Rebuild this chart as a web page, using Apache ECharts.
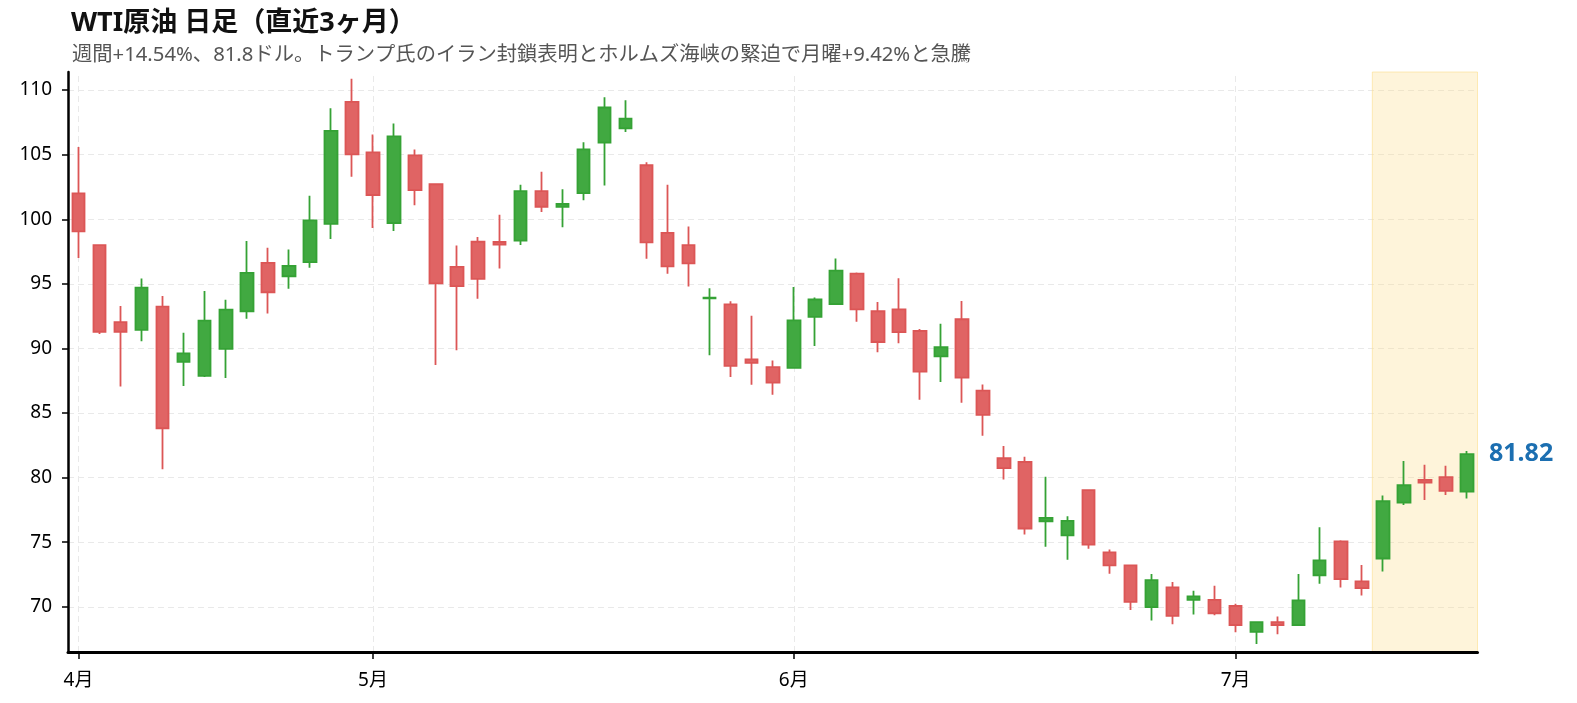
<!DOCTYPE html>
<html>
<head>
<meta charset="utf-8">
<script src="https://cdn.jsdelivr.net/npm/echarts@6/dist/echarts.min.js"></script>
<style>
html,body{margin:0;padding:0;background:#fff;}
#chart{width:1577px;height:703px;}
</style>
</head>
<body>
<div id="chart"></div>
<script>
// ---- data ----
const monthLabels = ['4月', '5月', '6月', '7月'];
const monthCounts = [14, 20, 21, 12]; // trading days per month in the window
const opens  = [102.0, 98.0, 92.03, 91.44, 93.24, 88.97, 87.88, 89.97, 92.88, 96.62,
                95.59, 96.68, 99.65, 109.09, 105.18, 99.71, 104.94, 102.71, 96.32, 98.26,
                98.24, 98.35, 102.18, 100.97, 102.03, 105.94, 107.03, 104.18, 98.94, 98.0,
                93.88, 93.41, 89.15, 88.56, 88.5, 92.44, 93.44, 95.79, 92.88, 93.03,
                91.35, 89.38, 92.26, 86.74, 81.5, 81.21, 76.62, 75.53, 79.03, 74.21,
                73.21, 69.97, 71.5, 70.53, 70.53, 70.06, 68.06, 68.82, 68.59, 72.44,
                75.06, 71.97, 73.74, 78.06, 79.82, 80.03, 78.91];
const closes = [99.06, 91.29, 91.29, 94.71, 83.82, 89.62, 92.15, 93.0, 95.85, 94.35,
                96.38, 99.91, 106.85, 105.03, 101.88, 106.41, 102.26, 95.03, 94.82, 95.38,
                98.03, 102.18, 100.97, 101.18, 105.41, 108.65, 107.79, 98.21, 96.35, 96.59,
                93.94, 88.65, 88.88, 87.35, 92.18, 93.79, 96.03, 93.03, 90.5, 91.26,
                88.21, 90.09, 87.74, 84.85, 80.74, 76.06, 76.88, 76.65, 74.82, 73.21,
                70.38, 72.06, 69.29, 70.8, 69.5, 68.59, 68.82, 68.59, 70.5, 73.59,
                72.15, 71.44, 78.17, 79.41, 79.62, 78.97, 81.82];
const lows   = [97.0, 91.12, 87.06, 90.56, 80.65, 87.09, 87.79, 87.71, 92.29, 92.71,
                94.62, 96.24, 98.47, 103.29, 99.32, 99.09, 101.09, 88.71, 89.85, 93.85,
                96.18, 98.0, 100.56, 99.38, 101.47, 102.62, 106.76, 96.94, 95.79, 94.79,
                89.47, 87.79, 87.18, 86.41, 88.45, 90.18, 93.4, 92.06, 89.71, 90.41,
                86.03, 87.41, 85.79, 83.24, 79.85, 75.59, 74.65, 73.65, 74.5, 72.56,
                69.76, 68.94, 68.65, 69.41, 69.35, 68.03, 67.12, 67.88, 68.59, 71.79,
                71.5, 70.88, 72.74, 77.88, 78.26, 78.65, 78.38];
const highs  = [105.59, 98.0, 93.29, 95.41, 94.06, 91.21, 94.44, 93.76, 98.32, 97.79,
                97.65, 101.82, 108.59, 110.88, 106.56, 107.41, 105.41, 102.71, 97.97, 98.62,
                100.35, 102.68, 103.68, 102.32, 105.97, 109.44, 109.21, 104.41, 102.68, 99.44,
                94.65, 93.65, 92.53, 89.06, 94.76, 93.94, 96.97, 95.88, 93.59, 95.44,
                91.5, 91.91, 93.68, 87.21, 82.44, 81.62, 80.06, 77.0, 79.03, 74.44,
                73.21, 72.53, 71.91, 71.24, 71.62, 70.24, 68.82, 69.24, 72.53, 76.15,
                75.15, 73.24, 78.62, 81.29, 81.0, 80.91, 82.06];
const highlightWeek = [62, 66];      // last week (index range)
const yTickLabels = [70, 75, 80, 85, 90, 95, 100, 105, 110];
const titleText = 'WTI原油 日足（直近3ヶ月）';
const subText = '週間+14.54%、81.8ドル。トランプ氏のイラン封鎖表明とホルムズ海峡の緊迫で月曜+9.42%と急騰';

// ---- derived structures ----
const categories = [];
const monthStartIdx = [];
monthLabels.forEach((m, k) => {
  monthStartIdx.push(categories.length);
  for (let i = 0; i < monthCounts[k]; i++) categories.push(m);
});
const candleData = opens.map((o, i) => [o, closes[i], lows[i], highs[i]]);
const lastIdx = closes.length - 1;
const isMonthStart = (idx) => monthStartIdx.indexOf(idx) >= 0;

const FONT = '"Noto Sans", "Noto Sans CJK JP", sans-serif';
const chart = echarts.init(document.getElementById('chart'), null, {renderer: 'canvas'});
chart.setOption({
  backgroundColor: '#ffffff',
  animation: false,
  textStyle: {fontFamily: FONT},
  title: [
    {text: titleText, left: 66, top: 5,
     textStyle: {fontFamily: FONT, fontSize: 27, fontWeight: 'bold', color: '#111111'}},
    {text: subText, left: 67, top: 40,
     textStyle: {fontFamily: FONT, fontSize: 20.3, fontWeight: 'normal', color: '#555555'}}
  ],
  grid: {left: 68, right: 99.5, top: 72, bottom: 51, containLabel: false},
  xAxis: [
    {
      type: 'category', data: categories, boundaryGap: true,
      axisLine: {show: true, onZero: false, lineStyle: {color: '#000', width: 3}},
      axisTick: {show: true, alignWithLabel: true, interval: (i) => isMonthStart(i),
                 length: 7, lineStyle: {color: '#000', width: 1.5}},
      axisLabel: {interval: (i) => isMonthStart(i), color: '#000', fontSize: 19, margin: 19,
                  fontFamily: FONT},
      splitLine: {show: false}
    },
    {
      type: 'value', min: -0.5, max: categories.length - 0.5, show: false,
      axisLine: {onZero: false},
      splitLine: {show: false}
    }
  ],
  yAxis: {
    type: 'value', min: 66.5, max: 111.4, splitNumber: 9, scale: true,
    axisLine: {show: true, onZero: false, lineStyle: {color: '#000', width: 2.5}},
    axisTick: {show: true, length: 6, lineStyle: {color: '#000', width: 1.5}},
    axisLabel: {color: '#000', fontSize: 19, margin: 16, showMinLabel: false, showMaxLabel: false,
                fontFamily: FONT,
                formatter: (v) => (yTickLabels.indexOf(v) >= 0 ? String(v) : '')},
    splitLine: {show: true, showMinLine: false, showMaxLine: false,
                lineStyle: {color: '#e9e9e9', width: 1, type: [6, 4]}}
  },
  series: [
    {
      type: 'scatter', xAxisIndex: 1, z: 1,
      data: [[lastIdx, closes[lastIdx]]],
      symbolSize: 0,
      itemStyle: {opacity: 1},
      label: {show: true, position: 'right', distance: 22, opacity: 1,
              formatter: (p) => p.value[1].toFixed(2),
              color: '#1c6fb1', fontSize: 25, fontWeight: 'bold', fontFamily: FONT},
      markArea: {
        silent: true, z: 0,
        itemStyle: {color: 'rgba(252,222,140,0.32)', borderColor: 'rgba(252,222,140,0.6)', borderWidth: 1},
        data: [[{xAxis: highlightWeek[0] - 0.5}, {xAxis: highlightWeek[1] + 0.5}]]
      },
      markLine: {
        silent: true, z: 0, symbol: 'none', label: {show: false},
        lineStyle: {color: '#e9e9e9', width: 1, type: [6, 4]},
        data: monthStartIdx.map((i) => ({xAxis: i}))
      }
    },
    {
      type: 'candlestick', xAxisIndex: 0, z: 3,
      data: candleData,
      barWidth: 13,
      itemStyle: {
        color: '#41a941', borderColor: '#35a235',
        color0: '#e06464', borderColor0: '#dc5656',
        borderWidth: 1.8
      }
    }
  ]
});
</script>
</body>
</html>
